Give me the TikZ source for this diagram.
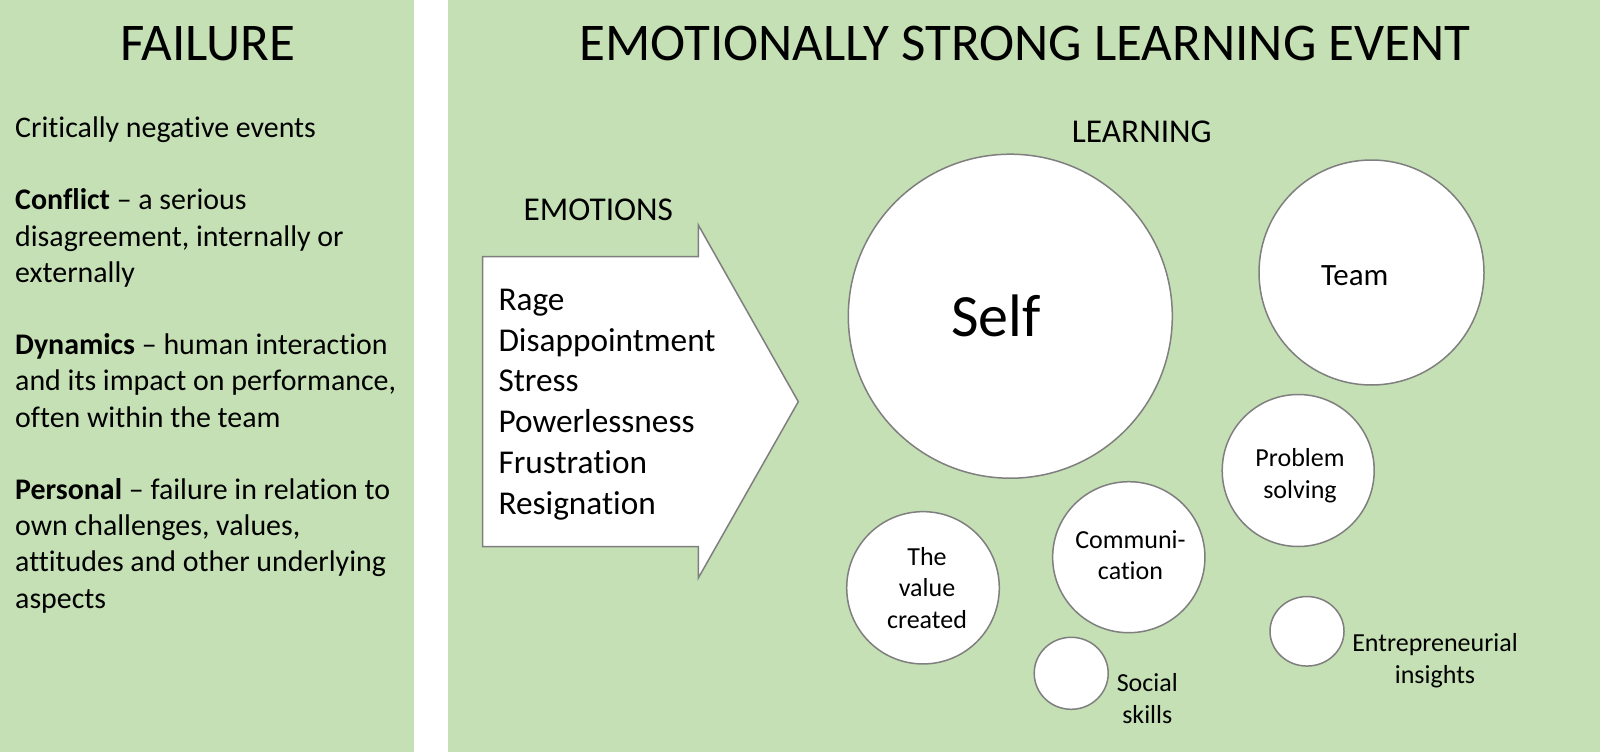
\documentclass[tikz,border=0pt]{standalone}
\usepackage{fontspec}
\setmainfont{Carlito}[Ligatures={TeX,NoCommon}]
\usetikzlibrary{shapes.geometric}
\definecolor{panelgreen}{HTML}{C5E0B4}
\definecolor{edgegray}{HTML}{7F7F7F}
\begin{document}
\begin{tikzpicture}[x=1pt,y=-1pt,
  bubble/.style={ellipse,draw=edgegray,fill=white,line width=1.5pt,inner sep=0pt},
  lbl/.style={inner sep=0pt,anchor=base,text=black},
  bigfont/.style={font=\fontsize{53}{63}\selectfont},
  midfont/.style={font=\fontsize{33.3}{40.7}\selectfont},
  smallfont/.style={font=\fontsize{26}{31.6}\selectfont},
]
\useasboundingbox (0,0) rectangle (1600,752);
\fill[white] (0,0) rectangle (1600,752);
\fill[panelgreen] (0,0) rectangle (414,752);
\fill[panelgreen] (448,0) rectangle (1600,752);

% titles
\node[lbl,bigfont] (failtitle) at (207.7,60) {FAILURE};
\node[lbl,bigfont] (eventtitle) at (1025,60) {EMOTIONALLY STRONG LEARNING EVENT};

% left text
\node[lbl,anchor=base west,font=\fontsize{29.9}{36.2}\selectfont] (failtext) at (15,137.5)
 {\begin{tabular}[t]{@{}l@{}}Critically negative events\\ \\
 \textbf{Conflict} – a serious\\ disagreement, internally or\\ externally\\ \\
 \textbf{Dynamics} – human interaction\\ and its impact on performance,\\ often within the team\\ \\
 \textbf{Personal} – failure in relation to\\ own challenges, values,\\ attitudes and other underlying\\ aspects\end{tabular}};

% arrow
\draw[draw=edgegray,fill=white,line width=1.5pt,line join=miter]
  (482.7,256.7) -- (698.3,256.7) -- (698.3,225) -- (798.3,401.7)
  -- (698.3,578) -- (698.3,546.7) -- (482.7,546.7) -- cycle;
\node[lbl,midfont] (emolabel) at (598.3,220.7) {EMOTIONS};
\node[lbl,anchor=base west,midfont] (emolist) at (498.3,310.5)
 {\begin{tabular}[t]{@{}l@{}}Rage\\ Disappointment\\ Stress\\ Powerlessness\\ Frustration\\ Resignation\end{tabular}};

% learning
\node[lbl,midfont] (learnlabel) at (1141.8,142) {LEARNING};

\node[bubble,minimum width=324pt,minimum height=324pt] (self) at (1010.3,316.2) {};
\node[lbl,font=\fontsize{60}{72}\selectfont] (selftext) at (996,336.7) {Self};

\node[bubble,minimum width=225pt,minimum height=225pt] (team) at (1371.5,272.5) {};
\node[lbl,font=\fontsize{31}{38}\selectfont] (teamtext) at (1354.7,285) {Team};

\node[bubble,minimum width=152pt,minimum height=152pt] (problem) at (1298.2,470.5) {};
\node[lbl,smallfont] (problemtext) at (1300,466.7)
 {\begin{tabular}[t]{@{}c@{}}Problem\\ solving\end{tabular}};

\node[bubble,minimum width=152.6pt,minimum height=152.3pt] (value) at (923,587.8) {};
\node[lbl,smallfont] (valuetext) at (927,565)
 {\begin{tabular}[t]{@{}c@{}}The\\ value\\ created\end{tabular}};

\node[bubble,minimum width=152.3pt,minimum height=151pt] (comm) at (1128.8,557.2) {};
\node[lbl,smallfont] (commtext) at (1130.5,548.3)
 {\begin{tabular}[t]{@{}c@{}}Communi-\\ cation\end{tabular}};

\node[bubble,minimum width=74pt,minimum height=72pt] (social) at (1071.2,673.3) {};
\node[lbl,smallfont] (socialtext) at (1147.3,691.7)
 {\begin{tabular}[t]{@{}c@{}}Social\\ skills\end{tabular}};

\node[bubble,minimum width=74pt,minimum height=69.5pt] (entre) at (1307,631.3) {};
\node[lbl,smallfont] (entretext) at (1435,651.7)
 {\begin{tabular}[t]{@{}c@{}}Entrepreneurial\\ insights\end{tabular}};
\end{tikzpicture}
\end{document}
